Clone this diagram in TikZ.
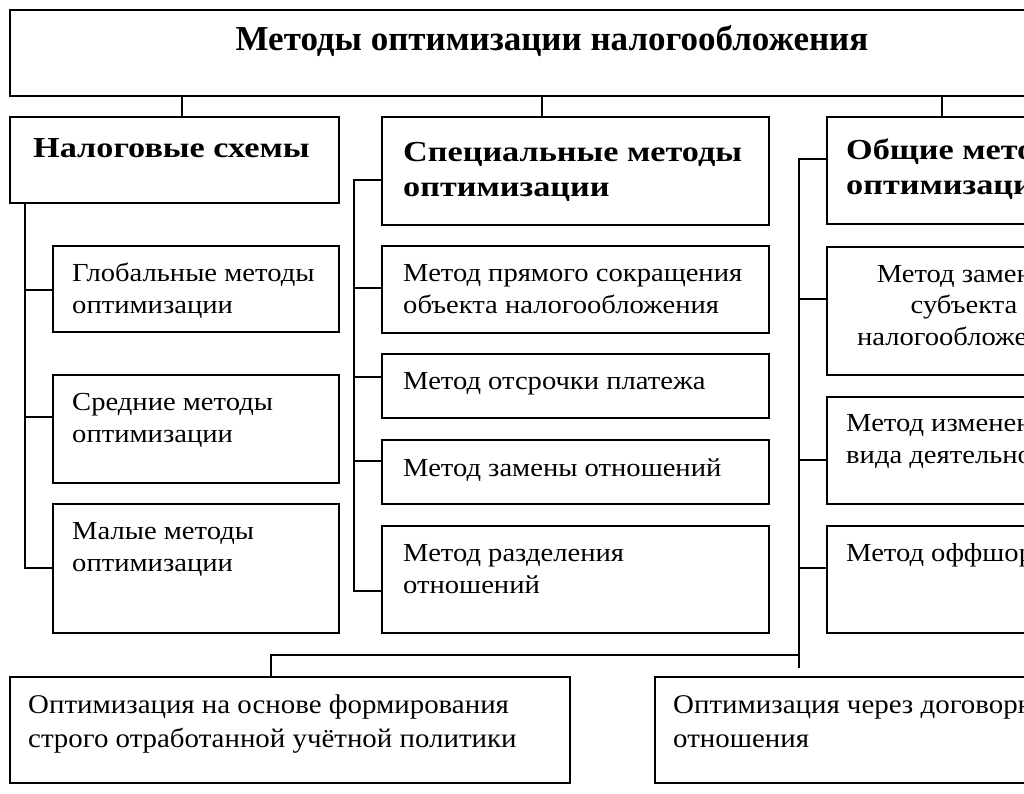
\documentclass[tikz,border=0pt]{standalone}
\usepackage{fontspec}
\setmainfont{Liberation Serif}
\newfontfamily\titlef{Liberation Serif}
\newfontfamily\headf[FakeStretch=1.18]{Liberation Serif}
\newfontfamily\bodyf[FakeStretch=1.1]{Liberation Serif}
\newfontfamily\botf[FakeStretch=1.07]{Liberation Serif}
\usetikzlibrary{fit,calc}
\tikzset{
  box/.style={draw, line width=1.6pt, inner sep=0pt, rectangle},
  wire/.style={draw, line width=1.5pt},
  titletxt/.style={inner sep=0pt, anchor=base, font={\titlef\bfseries\fontsize{35}{40}\selectfont}},
  headtxt/.style={inner sep=0pt, anchor=base west, align=left, font={\headf\bfseries\fontsize{29}{35}\selectfont}},
  bodytxt/.style={inner sep=0pt, anchor=base west, align=left, font={\bodyf\fontsize{26}{31.5}\selectfont}},
  ctrtxt/.style={inner sep=0pt, anchor=base, align=center, font={\bodyf\fontsize{26}{31.5}\selectfont}},
  bottxt/.style={inner sep=0pt, anchor=base west, align=left, font={\botf\fontsize{27}{34}\selectfont}},
}
\begin{document}
\begin{tikzpicture}[x=1pt, y=-1pt]
\useasboundingbox (0,0) rectangle (1024,793);
\clip (0,0) rectangle (1024,793);
\fill[white] (0,0) rectangle (1024,793);

% boxes
\node[box, fit={(10,10) (1095,96)}] (top) {};
\node[box, fit={(10,117) (339,203)}] (n1) {};
\node[box, fit={(382,117) (769,225)}] (s1) {};
\node[box, fit={(827,117) (1100,224)}] (o1) {};
\node[box, fit={(53,246) (339,332)}] (n2) {};
\node[box, fit={(53,375) (339,483)}] (n3) {};
\node[box, fit={(53,504) (339,633)}] (n4) {};
\node[box, fit={(382,246) (769,333)}] (s2) {};
\node[box, fit={(382,354) (769,418)}] (s3) {};
\node[box, fit={(382,440) (769,504)}] (s4) {};
\node[box, fit={(382,526) (769,633)}] (s5) {};
\node[box, fit={(827,247) (1100,375)}] (o2) {};
\node[box, fit={(827,397) (1100,504)}] (o3) {};
\node[box, fit={(827,526) (1100,633)}] (o4) {};
\node[box, fit={(10,677) (570,783)}] (b1) {};
\node[box, fit={(655,677) (1100,783)}] (b2) {};

% texts (multi-line nodes: anchor is the baseline of the last line)
\node[titletxt] (ttop) at (552,50) {Методы оптимизации налогообложения};
\node[headtxt] (tn1) at (33,157) {Налоговые схемы};
\node[headtxt] (ts1) at (403,196) {Специальные методы\\оптимизации};
\node[headtxt] (to1) at (846,194) {Общие методы\\оптимизации};
\node[bodytxt] (tn2) at (72,313) {Глобальные методы\\оптимизации};
\node[bodytxt] (tn3) at (72,442) {Средние методы\\оптимизации};
\node[bodytxt] (tn4) at (72,571) {Малые методы\\оптимизации};
\node[bodytxt] (ts2) at (403,313) {Метод прямого сокращения\\объекта налогообложения};
\node[bodytxt] (ts3) at (403,389) {Метод отсрочки платежа};
\node[bodytxt] (ts4) at (403,476) {Метод замены отношений};
\node[bodytxt] (ts5) at (403,593) {Метод разделения\\отношений};
\node[ctrtxt] (to2) at (964,345) {Метод замены\\субъекта\\налогообложения};
\node[bodytxt] (to3) at (846,463) {Метод изменения\\вида деятельности};
\node[bodytxt] (to4) at (846,561) {Метод оффшоров};
\node[bottxt] (tb1) at (28,747) {Оптимизация на основе формирования\\строго отработанной учётной политики};
\node[bottxt] (tb2) at (673,747) {Оптимизация через договорные\\отношения};

% junction x positions
\coordinate (j1) at (182,0);
\coordinate (j2) at (542,0);
\coordinate (j3) at (942,0);
\coordinate (lx) at (25,0);
\coordinate (mx) at (354,0);
\coordinate (rx) at (799,0);
\coordinate (bx) at (271,0);
\coordinate (hy) at (0,655);

% top connectors
\draw[wire] (top.south -| j1) -- (n1.north -| j1);
\draw[wire] (top.south -| j2) -- (s1.north -| j2);
\draw[wire] (top.south -| j3) -- (o1.north -| j3);

% left tree
\draw[wire] (n1.south -| lx) |- (n4.west |- 0,568);
\draw[wire] (n2.west |- 0,290) -- (lx |- 0,290);
\draw[wire] ($(n3.north west)+(0,43)$) -- ($(n3.north west -| lx)+(0,43)$);

% middle tree
\coordinate (m1) at ($(s1.north west)+(0,64)$);
\coordinate (m5) at ($(s5.north west)+(0,66)$);
\draw[wire] (m1) -| (mx |- m5) -- (m5);
\draw[wire] ($(s2.north west)+(0,43)$) -- ($(s2.north west -| mx)+(0,43)$);
\draw[wire] ($(s3.north west)+(0,24)$) -- ($(s3.north west -| mx)+(0,24)$);
\draw[wire] ($(s4.north west)+(0,22)$) -- ($(s4.north west -| mx)+(0,22)$);

% right tree
\coordinate (r1) at ($(o1.north west)+(0,43)$);
\coordinate (rend) at ($(b2.north -| rx)+(0,-8)$);
\draw[wire] (r1) -| (rend);
\draw[wire] ($(o2.north west)+(0,53)$) -- ($(o2.north west -| rx)+(0,53)$);
\draw[wire] ($(o3.north west)+(0,64)$) -- ($(o3.north west -| rx)+(0,64)$);
\draw[wire] ($(o4.north west)+(0,43)$) -- ($(o4.north west -| rx)+(0,43)$);

% bottom connector
\draw[wire] (rx |- hy) -| (b1.north -| bx);
\end{tikzpicture}
\end{document}
